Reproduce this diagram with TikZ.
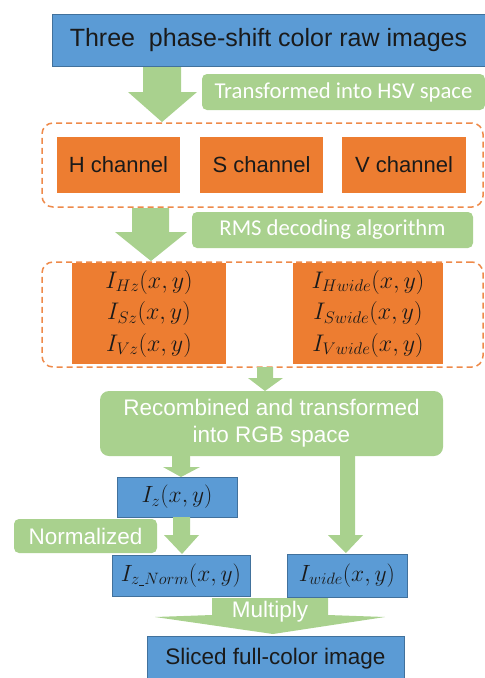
\IfFileExists{fix-cm.sty}{\RequirePackage{fix-cm}}{}
\documentclass[tikz,border=0pt]{standalone}
\usepackage{fontspec}
\newfontfamily\arialf{Liberation Sans}
\newfontfamily\calibrif{Carlito}
\definecolor{bfill}{HTML}{5B9BD5}
\definecolor{bline}{HTML}{41719C}
\definecolor{ofill}{HTML}{ED7D31}
\definecolor{odash}{HTML}{EE8A4A}
\definecolor{gfill}{HTML}{A9D18E}
\definecolor{dtext}{HTML}{1A1A1A}
\tikzset{
  bluebox/.style={draw=bline, line width=0.8pt, fill=bfill, inner sep=0pt, text=dtext},
  orbox/.style={fill=ofill, inner sep=0pt, text=dtext},
  grbox/.style={fill=gfill, rounded corners=5pt, inner sep=0pt, text=white},
  dashbox/.style={draw=odash, line width=1.5pt, dash pattern=on 6pt off 4pt, rounded corners=11pt, inner sep=0pt},
  fatarrow/.style={fill=gfill, draw=none},
  arialtxt/.style={font=\arialf\fontsize{22.5}{27}\selectfont},
  calibtxt/.style={font=\calibrif\fontsize{22.7}{26}\selectfont},
  mathtxt/.style={font=\fontsize{24}{31.5}\selectfont, align=center},
  mathone/.style={font=\fontsize{23.5}{27}\selectfont},
}
\begin{document}
\begin{tikzpicture}[x=1pt, y=-1pt]
\useasboundingbox (0,0) rectangle (485,678);
% boxes
\node[bluebox, minimum width=433, minimum height=52, font=\arialf\fontsize{25}{30}\selectfont] (top) at (268.5,40) {Three\ \ phase-shift color raw images};
\node[grbox, minimum width=283, minimum height=36, calibtxt] (hsv) at (343.5,92) {Transformed into HSV space};
\node[dashbox, minimum width=441, minimum height=84] (dash1) at (262.5,165) {};
\node[orbox, minimum width=123, minimum height=56, font=\arialf\fontsize{22}{26}\selectfont] (H) at (118.5,165) {H channel};
\node[orbox, minimum width=123, minimum height=56, font=\arialf\fontsize{22}{26}\selectfont] (S) at (261.5,165) {S channel};
\node[orbox, minimum width=124, minimum height=56, font=\arialf\fontsize{22}{26}\selectfont] (V) at (404,165) {V channel};
\node[grbox, minimum width=281, minimum height=36, calibtxt] (rms) at (332.5,230) {RMS decoding algorithm};
\node[dashbox, minimum width=441, minimum height=105] (dash2) at (262.5,314.5) {};
\node[orbox, minimum width=154, minimum height=101, mathtxt] (zl) at (149,313.5) {$I_{Hz}(x,y)$\\$I_{Sz}(x,y)$\\$I_{Vz}(x,y)$};
\node[orbox, minimum width=150, minimum height=101, mathtxt] (wr) at (368,313.5) {$I_{Hwide}(x,y)$\\$I_{Swide}(x,y)$\\$I_{Vwide}(x,y)$};
\node[grbox, rounded corners=9pt, minimum width=343, minimum height=65, arialtxt, align=center] (rgb) at (271.5,423.5) {Recombined and transformed\\into RGB space};
\node[bluebox, minimum width=120, minimum height=40, mathone] (iz) at (177,497) {$I_z(x,y)$};
\node[grbox, minimum width=143, minimum height=34, arialtxt] (norm) at (85.5,536) {Normalized};
\node[bluebox, minimum width=138, minimum height=41, mathone] (izn) at (181,575.5) {$I_{z\rule[-1pt]{5pt}{0.9pt}Norm}(x,y)$};
\node[bluebox, minimum width=120, minimum height=43, mathone] (iw) at (347,575.5) {$I_{wide}(x,y)$};
\node[bluebox, minimum width=257, minimum height=46, arialtxt] (fin) at (275.5,659) {Sliced full-color image};
% fat arrows
\fill[fatarrow] (143,67) -- (181,67) -- (181,92) -- (197,92) -- (162,122) -- (128,92) -- (143,92) -- cycle;
\fill[fatarrow] (132,208) -- (169,208) -- (169,232) -- (187,232) -- (151,261) -- (115,232) -- (132,232) -- cycle;
\fill[fatarrow] (257,367) -- (273,367) -- (273,378) -- (283,378) -- (265,391) -- (248,378) -- (257,378) -- cycle;
\fill[fatarrow] (172,456) -- (190,456) -- (190,467) -- (200,467) -- (181,477) -- (163,467) -- (172,467) -- cycle;
\fill[fatarrow] (173,517) -- (190,517) -- (190,535) -- (199,535) -- (182,554) -- (164,535) -- (173,535) -- cycle;
\fill[fatarrow] (340,456) -- (355,456) -- (355,535) -- (363,535) -- (346,553) -- (328,535) -- (340,535) -- cycle;
\fill[fatarrow] (212,598) -- (328,598) -- (328,615) -- (385,617) -- (273,634) -- (155,617) -- (212,615) -- cycle;
\node[arialtxt, text=white, inner sep=0pt] (mul) at (270,612) {Multiply};
\end{tikzpicture}
\end{document}
